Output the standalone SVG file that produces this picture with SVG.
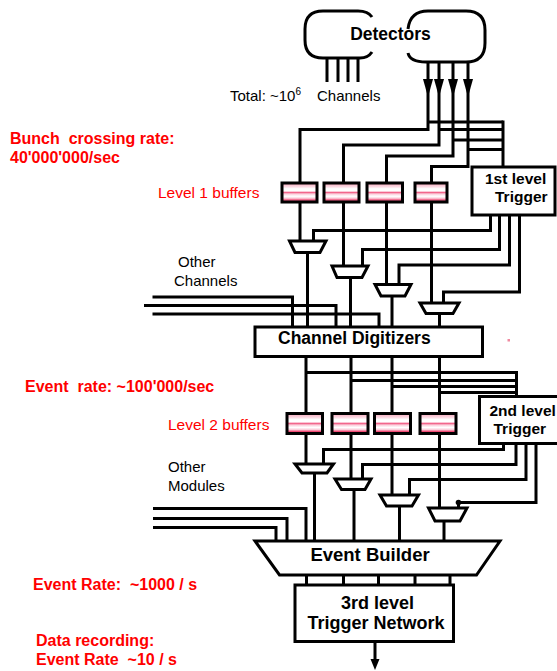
<svg xmlns="http://www.w3.org/2000/svg" width="557" height="671" viewBox="0 0 557 671">
<style>
.t{font-family:"Liberation Sans",Arial,Helvetica,sans-serif;}
.b{font-weight:bold;}
.r{fill:#ff0000;}
.k{fill:#000;}
.w{fill:none;stroke:#000;stroke-width:3;stroke-linejoin:miter;}
.box{fill:#fff;stroke:#000;stroke-width:3;}
.buf{fill:url(#bufg);stroke:#000;stroke-width:3;}
.mux{fill:#fff;stroke:#000;stroke-width:3;stroke-linejoin:miter;}
</style>
<defs>
<linearGradient id="bufg" x1="0" y1="0" x2="0" y2="1">
<stop offset="0" stop-color="#f4a6ba"/>
<stop offset="0.18" stop-color="#fbd3de"/>
<stop offset="0.3" stop-color="#ffffff"/>
<stop offset="0.42" stop-color="#ffffff"/>
<stop offset="0.5" stop-color="#f2668c"/>
<stop offset="0.58" stop-color="#fbd0dc"/>
<stop offset="0.7" stop-color="#ffffff"/>
<stop offset="0.8" stop-color="#fbd0dc"/>
<stop offset="0.9" stop-color="#ef4a74"/>
<stop offset="1" stop-color="#f4a6ba"/>
</linearGradient>
<path id="ah" d="M-5,0 L5,0 L0,18 Z" fill="#000"/>
<path id="ah2" d="M-4.5,0 L4.5,0 L0,11 Z" fill="#000"/>
</defs>
<rect width="557" height="671" fill="#fff"/>

<g id="connectors">
<!-- detector stubs -->
<path class="w" d="M327,58V82M338,58V82M348,58V82M358,58V82"/>
<!-- detector channels to L1 buffers -->
<polyline class="w" points="428,62 428,129.5 300,129.5 300,183"/>
<polyline class="w" points="439,62 439,145 343.5,145 343.5,183"/>
<polyline class="w" points="453,62 453,156 386.5,156 386.5,183"/>
<polyline class="w" points="468,62 468,166.5 431.5,166.5 431.5,183"/>
<!-- branches to 1st level trigger -->
<path class="w" d="M428,122H503M439,129.5H503M453,140H503M468,149.5H503"/>
<polyline class="w" points="503,120.5 503,167"/>
<use href="#ah" x="428" y="79"/>
<use href="#ah" x="439" y="79"/>
<use href="#ah" x="453" y="79"/>
<use href="#ah" x="468" y="79"/>
<!-- L1 buffers to muxes -->
<path class="w" d="M300,202V241M343.5,202V266M386.5,202V284.5M431.5,202V303"/>
<!-- 1st trigger controls -->
<polyline class="w" points="490.5,215 490.5,230.5 313.5,230.5 313.5,241"/>
<polyline class="w" points="499.5,215 499.5,249.5 362.5,249.5 362.5,266"/>
<polyline class="w" points="509.5,215 509.5,265 399,265 399,284.5"/>
<polyline class="w" points="519.5,215 519.5,292 443.5,292 443.5,303"/>
<!-- mux outputs to digitizers -->
<path class="w" d="M307.5,252.5V327M350.5,277.5V327M392,296V327M439.5,313.5V327"/>
<!-- other channels -->
<polyline class="w" points="152.5,297 292.5,297 292.5,327"/>
<polyline class="w" points="144,305.5 336,305.5 336,327"/>
<polyline class="w" points="152.5,314 379,314 379,327"/>
<!-- digitizers to L2 buffers -->
<path class="w" d="M306,356.5V464M351,356.5V479M392,356.5V495M439.5,356.5V508"/>
<!-- branches to 2nd level trigger -->
<path class="w" d="M306,372.5H516.5M351,380.5H516.5M392,386.5H516.5M439.5,392.5H516.5"/>
<polyline class="w" points="516.5,371 516.5,397"/>
<!-- 2nd trigger controls -->
<polyline class="w" points="503.5,443.5 503.5,449.5 323.5,449.5 323.5,464"/>
<polyline class="w" points="516,443.5 516,464.5 362.5,464.5 362.5,479"/>
<polyline class="w" points="526,443.5 526,479.5 409.5,479.5 409.5,495"/>
<polyline class="w" points="536,443.5 536,502.5 458.5,502.5 458.5,508"/>
<circle cx="458.5" cy="502.5" r="2.8" fill="#000"/>
<!-- L2 mux outputs to event builder -->
<path class="w" d="M314.5,473V541M354,489.5V541M399.5,506V541M444,521V541"/>
<!-- other modules -->
<polyline class="w" points="153,508.5 306,508.5 306,541"/>
<polyline class="w" points="153,518.5 287,518.5 287,541"/>
<polyline class="w" points="153,527.5 276,527.5 276,541"/>
<!-- event builder to 3rd level -->
<path class="w" d="M306.5,575V585M343.5,575V585M378.5,575V585M415,575V585M450,575V585"/>
<!-- output -->
<polyline class="w" points="375,641.5 375,662"/>
<use href="#ah2" x="375" y="659"/>
</g>

<g id="detectors">
<path class="w" d="M372,17 Q368,11 358,11 L323,11 Q305,11 305,29 L305,40 Q305,58 323,58 L360,58 Q368,58 372,52"/>
<path class="w" d="M408,29 Q410,11 428,11 L466,11 Q485,11 485,30 L485,43 Q485,62 466,62 L426,62 Q410,62 408,53"/>
<text class="t b k" x="390.5" y="39.5" font-size="17.5" text-anchor="middle">Detectors</text>
</g>

<g id="channels-label">
<text class="t k" x="230" y="101" font-size="15">Total: ~10<tspan font-size="10" dy="-6">6</tspan><tspan x="317" y="101">Channels</tspan></text>
</g>

<g id="level1-buffers">
<rect class="buf" x="282" y="183" width="35" height="19"/>
<rect class="buf" x="324" y="183" width="35" height="19"/>
<rect class="buf" x="367" y="183" width="35.5" height="19"/>
<rect class="buf" x="415" y="183" width="32" height="19"/>
</g>

<g id="trigger1">
<rect class="box" x="472" y="167" width="83" height="48"/>
<text class="t b k" x="485" y="184" font-size="15.5">1st level</text>
<text class="t b k" x="495" y="202" font-size="15.5">Trigger</text>
</g>

<g id="level1-muxes">
<polygon class="mux" points="289.5,241 326,241 320,252.5 295,252.5"/>
<polygon class="mux" points="332,266 368,266 362,277.5 337,277.5"/>
<polygon class="mux" points="375,284.5 411,284.5 405,296 381,296"/>
<polygon class="mux" points="420,303 459,303 453,313.5 426,313.5"/>
</g>

<g id="digitizers">
<rect class="box" x="255" y="327" width="227.5" height="29.5"/>
<text class="t b k" x="278" y="343.5" font-size="17.5">Channel Digitizers</text>
</g>

<rect id="dot" x="507.5" y="339" width="2.5" height="2.5" fill="#f08aa0"/>

<g id="level2-buffers">
<rect class="buf" x="287" y="413.5" width="35.5" height="20"/>
<rect class="buf" x="332" y="413.5" width="36" height="20"/>
<rect class="buf" x="374.5" y="413.5" width="36" height="20"/>
<rect class="buf" x="420" y="413.5" width="36" height="20"/>
</g>

<g id="trigger2">
<rect class="box" x="479.5" y="396.5" width="82" height="47"/>
<text class="t b k" x="489.5" y="415.5" font-size="15.5">2nd level</text>
<text class="t b k" x="493.5" y="434" font-size="15.5">Trigger</text>
</g>

<g id="level2-muxes">
<polygon class="mux" points="295,464 333.5,464 327,473 302,473"/>
<polygon class="mux" points="335,479 371,479 365,489.5 341.5,489.5"/>
<polygon class="mux" points="380,495 418.5,495 412,506 386.5,506"/>
<polygon class="mux" points="428.5,508 467,508 460,521 435,521"/>
</g>

<g id="event-builder">
<polygon class="mux" points="255,541 500,541 476.5,575 279.5,575"/>
<text class="t b k" x="370" y="560.5" font-size="18.5" text-anchor="middle">Event Builder</text>
</g>

<g id="trigger3">
<rect class="box" x="295" y="585" width="158.5" height="56.5"/>
<text class="t b k" x="377.5" y="609" font-size="18" text-anchor="middle">3rd level</text>
<text class="t b k" x="376" y="629" font-size="18" text-anchor="middle">Trigger Network</text>
</g>

<g id="labels">
<text class="t b r" x="10" y="144" font-size="16" xml:space="preserve">Bunch  crossing rate:</text>
<text class="t b r" x="10" y="162.5" font-size="16">40'000'000/sec</text>
<text class="t r" x="158" y="197.5" font-size="15.5">Level 1 buffers</text>
<text class="t k" x="178" y="266.5" font-size="15">Other</text>
<text class="t k" x="174" y="285.5" font-size="15">Channels</text>
<text class="t b r" x="25" y="391.5" font-size="16" xml:space="preserve">Event  rate: ~100'000/sec</text>
<text class="t r" x="168" y="430" font-size="15.5">Level 2 buffers</text>
<text class="t k" x="168" y="471.5" font-size="15">Other</text>
<text class="t k" x="168" y="490.5" font-size="15">Modules</text>
<text class="t b r" x="33" y="590" font-size="16" xml:space="preserve">Event Rate:  ~1000 / s</text>
<text class="t b r" x="36" y="646" font-size="16">Data recording:</text>
<text class="t b r" x="36" y="665" font-size="16" xml:space="preserve">Event Rate  ~10 / s</text>
</g>
</svg>
